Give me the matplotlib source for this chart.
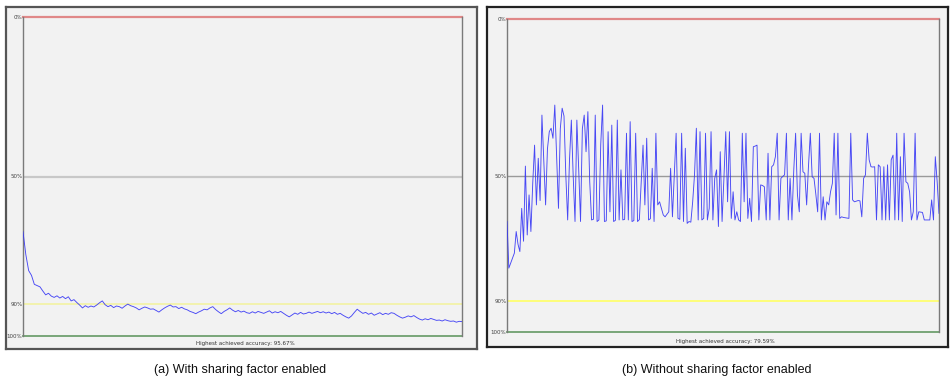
import matplotlib
matplotlib.use("Agg")
import matplotlib.pyplot as plt

# ---------------- data (accuracy %, per generation) ----------------
acc_with = [
    67.3, 74.5, 79.5, 81.0, 83.8, 84.2, 84.6, 85.9, 87.1, 86.6, 87.5, 87.9, 87.4, 88.1, 87.6, 88.3,
    87.7, 89.0, 88.6, 89.5, 90.3, 91.2, 90.5, 91.0, 90.6, 90.9, 90.3, 89.6, 89.0, 90.2, 90.8, 90.4,
    91.1, 90.6, 90.8, 91.3, 90.6, 90.0, 90.5, 90.8, 91.2, 91.8, 91.3, 90.9, 91.2, 91.6, 91.5, 92.0,
    92.5, 91.8, 91.2, 90.7, 90.3, 90.9, 90.8, 91.4, 91.0, 91.5, 91.8, 92.3, 92.6, 93.0, 92.5, 92.1,
    91.6, 91.8, 91.2, 90.8, 91.7, 92.4, 93.0, 92.3, 91.8, 91.2, 91.9, 92.4, 92.0, 92.5, 92.2, 92.7,
    92.9, 92.4, 92.8, 92.3, 92.6, 92.9, 92.5, 92.1, 92.8, 92.4, 92.7, 92.3, 92.9, 93.5, 94.0, 93.4,
    92.8, 93.2, 92.6, 93.1, 92.9, 92.5, 92.9, 92.6, 92.3, 92.7, 92.4, 92.8, 92.5, 93.0, 92.6, 93.2,
    92.9, 93.5, 94.0, 94.4, 93.7, 92.6, 91.6, 92.3, 92.9, 92.6, 93.2, 92.8, 93.5, 93.1, 92.7, 93.3,
    92.9, 93.2, 92.7, 92.9, 93.5, 94.0, 94.4, 94.1, 93.7, 94.0, 93.6, 94.2, 94.7, 95.0, 94.6, 94.9,
    94.5, 94.8, 95.1, 95.0, 95.3, 94.9, 95.2, 95.4, 95.3, 95.67, 95.4, 95.5,
]

acc_without = [
    64.7, 79.59, 78.0, 76.5, 74.8, 67.9, 72.0, 74.3, 60.5, 71.0, 47.0, 69.0, 56.2, 67.9, 52.5, 40.3,
    59.4, 44.5, 58.0, 30.7, 45.0, 59.4, 41.5, 36.0, 34.9, 38.1, 27.5, 44.0, 60.5, 35.0, 28.5, 31.0,
    50.0, 64.2, 45.0, 32.3, 50.0, 64.7, 32.3, 48.0, 64.7, 35.0, 30.7, 42.4, 29.6, 52.0, 64.2, 64.0,
    30.7, 64.7, 64.2, 40.0, 27.5, 64.7, 64.5, 36.0, 61.6, 33.9, 64.7, 64.3, 32.3, 64.2, 48.2, 64.2,
    64.0, 36.5, 64.2, 32.8, 64.7, 64.4, 36.5, 64.7, 64.1, 52.0, 40.3, 59.4, 38.1, 64.2, 63.8, 47.7,
    64.7, 36.5, 59.4, 58.4, 60.5, 62.6, 63.2, 62.4, 61.6, 47.7, 63.2, 49.8, 36.5, 63.7, 64.0, 36.5,
    64.7, 41.3, 65.3, 64.7, 64.9, 58.4, 49.8, 34.9, 64.2, 36.0, 64.2,
    63.7, 36.5, 64.2, 60.5, 36.0, 64.2, 50.9, 48.2, 66.3, 42.4, 64.7, 50.9, 36.0, 58.4, 36.0, 63.7,
    55.2, 64.2, 61.6, 64.2, 64.7, 36.5, 58.4, 36.5, 63.7, 57.3, 64.7, 40.8, 40.6, 40.3, 64.2, 53.0,
    53.2, 53.6, 64.2, 42.9, 64.2, 47.2, 46.6, 44.0, 36.5, 64.2, 50.9, 50.3, 49.8, 36.5, 64.2, 50.9,
    64.2, 48.2, 36.5, 56.2, 61.6, 36.5, 48.8, 49.3, 59.4, 47.0, 36.5, 50.4, 50.9, 56.0, 61.6, 36.5,
    64.2, 56.8, 64.2, 58.4, 59.4, 55.2, 52.5, 36.5, 62.6, 36.5, 63.7, 63.2, 63.4, 63.5, 63.6, 63.7,
    36.5, 57.8, 58.4, 58.2, 58.0, 58.1, 63.2, 50.9, 49.8, 36.5, 45.0, 47.2, 47.3, 47.2, 64.2, 46.6,
    47.2, 64.2, 47.2, 64.2, 46.6, 64.2, 45.0, 43.5, 64.2, 36.5, 64.2, 44.0, 64.7, 36.5, 52.0, 52.5,
    55.2, 64.2, 61.6, 36.5, 64.2, 61.6, 61.7, 61.8, 64.2, 64.2, 64.2, 64.2, 57.8, 64.2, 44.0, 52.0,
    62.1,
]

ref_levels = [0, 50, 90, 100]
ref_labels = ["0%", "50%", "90%", "100%"]
best_with = 95.67
best_without = 79.59
captions = ["(a) With sharing factor enabled", "(b) Without sharing factor enabled"]

# ---------------- layout ----------------
W, H = 951, 381
fig = plt.figure(figsize=(W / 100, H / 100), dpi=100)
fig.patch.set_facecolor("white")


def rect(x0, y0, x1, y1):
    return [x0 / W, 1 - y1 / H, (x1 - x0) / W, (y1 - y0) / H]


panels = [
    dict(data=acc_with, best=best_with, outer=(6, 7, 477, 349), inner=(23, 17, 462, 336),
         border="#555555", mid="#c8c8c8", mid_lw=1.6, yellow="#f3f3a8", best_xy=(245, 343),
         cap_xy=(240, 370), caption=captions[0]),
    dict(data=acc_without, best=best_without, outer=(487, 7, 948, 347), inner=(507, 19, 939, 332),
         border="#222222", mid="#9a9a9a", mid_lw=1.0, yellow="#ffff70", best_xy=(725, 341),
         cap_xy=(717, 370), caption=captions[1]),
]

for p in panels:
    # outer window frame
    fr = fig.add_axes(rect(*p["outer"]))
    fr.set_facecolor("#f2f2f2")
    fr.set_xticks([])
    fr.set_yticks([])
    for s in fr.spines.values():
        s.set_color(p["border"])
        s.set_linewidth(1.6)

    ax = fig.add_axes(rect(*p["inner"]))
    ax.patch.set_alpha(0)
    n = len(p["data"])
    ax.set_xlim(0, n - 1)
    ax.set_ylim(100, 0)

    ax.axhline(0, color="#e08888", lw=1.6, zorder=2, clip_on=False)
    ax.axhline(50, color=p["mid"], lw=p["mid_lw"], zorder=2)
    ax.axhline(90, color=p["yellow"], lw=1.3, zorder=2)
    ax.axhline(100, color="#6f9f6f", lw=1.3, zorder=2, clip_on=False)

    ax.plot(range(n), p["data"], color="#3535f5", lw=0.65, alpha=0.9, zorder=3)

    for side in ("top", "bottom"):
        ax.spines[side].set_visible(False)
    for side in ("left", "right"):
        ax.spines[side].set_color("#7a7a7a")
        ax.spines[side].set_linewidth(1.0)

    ax.set_xticks([])
    ax.set_yticks(ref_levels)
    ax.set_yticklabels(ref_labels)
    ax.tick_params(axis="y", length=0, pad=0.5, labelsize=4, labelcolor="#444444")

    bx, by = p["best_xy"]
    fig.text(bx / W, 1 - by / H, f"Highest achieved accuracy: {p['best']:.2f}%",
             ha="center", va="center", fontsize=4, color="#333333")

    cx, cy = p["cap_xy"]
    fig.text(cx / W, 1 - cy / H, p["caption"], ha="center", va="center",
             fontsize=9, family="Liberation Sans", color="#111111")

fig.savefig("out.png", dpi=100)
